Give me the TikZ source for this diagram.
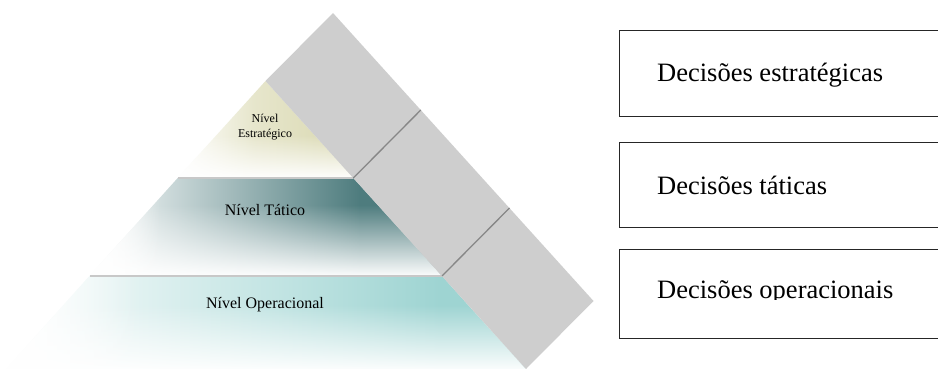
\documentclass[tikz,border=0pt]{standalone}
\usepackage{fontspec}
\setmainfont{Liberation Serif}
\usetikzlibrary{fadings}
\definecolor{stratc}{RGB}{220,219,182}
\definecolor{tactc}{RGB}{78,124,126}
\definecolor{operc}{RGB}{158,212,210}
\definecolor{bandc}{RGB}{206,206,206}
\definecolor{divc}{RGB}{135,135,135}
\definecolor{sepc}{RGB}{200,200,200}
\tikzfading[name=whitebottom, top color=transparent!100, bottom color=transparent!0]
\tikzfading[name=whiteleft, right color=transparent!100, left color=transparent!0]
\tikzset{
  decbox/.style={draw=black!85, line width=1.2pt, rectangle, minimum width=340pt, anchor=north west, inner sep=0pt},
  dectext/.style={anchor=base west, inner sep=0pt, font=\fontsize{26.5}{30}\selectfont},
  lvltext/.style={anchor=base, inner sep=0pt, font=\fontsize{16}{19}\selectfont},
  smalltext/.style={anchor=base, inner sep=0pt, font=\fontsize{12}{14}\selectfont},
  bandfill/.style={fill=bandc, draw=none},
  divline/.style={draw=divc, line width=1.3pt},
  sepline/.style={draw=sepc, line width=1.6pt}
}
\begin{document}
\begin{tikzpicture}[x=1pt,y=-1pt]
\clip (0,0) rectangle (938,369);
\fill[white] (0,0) rectangle (938,369);
% pyramid coordinates
\coordinate (apex) at (265.5,81);
\coordinate (s1l) at (177.7,178);
\coordinate (s1r) at (353.3,178);
\coordinate (s2l) at (89.5,276);
\coordinate (s2r) at (442,276);
\coordinate (bl) at (1,375);
\coordinate (br) at (531,375);
% strategic level
\begin{scope}
  \clip (apex) -- (s1r) -- (s1l) -- cycle;
  \shade[left color=white, right color=stratc, middle color=stratc!70] (177,78) rectangle (330,178);
  \fill[stratc] (329,78) rectangle (356,178);
  \fill[white, path fading=whitebottom] (177,135) rectangle (356,179);
\end{scope}
% tactical level
\begin{scope}
  \clip (s1l) -- (s1r) -- (s2r) -- (s2l) -- cycle;
  \shade[left color=white, right color=tactc] (89,178) rectangle (360,276);
  \fill[tactc] (359,178) rectangle (444,276);
  \fill[white, path fading=whitebottom] (89,205) rectangle (444,277);
  \fill[white, path fading=whiteleft] (89,178) rectangle (160,276);
\end{scope}
% operational level
\begin{scope}
  \clip (s2l) -- (s2r) -- (br) -- (bl) -- cycle;
  \shade[left color=white, right color=operc] (0,276) rectangle (440,369);
  \fill[operc] (439,276) rectangle (535,375);
  \fill[white, path fading=whitebottom] (0,305) rectangle (535,372);
  \fill[white, path fading=whiteleft] (0,276) rectangle (140,369);
\end{scope}
% level separators
\draw[sepline] (s1l) -- (s1r);
\draw[sepline] (s2l) -- (s2r);
% band
\coordinate (bA) at (265.5,81);
\coordinate (bB) at (333,13);
\coordinate (bD) at (526,369);
\coordinate (bC) at (593.5,301);
\fill[bandfill] (bA) -- (bB) -- (bC) -- (bD) -- cycle;
\coordinate (d1a) at (353.3,178);
\coordinate (d1b) at (420.8,110);
\coordinate (d2a) at (442,276);
\coordinate (d2b) at (509.5,208);
\draw[divline] (d1a) -- (d1b);
\draw[divline] (d2a) -- (d2b);
% pyramid labels
\node[smalltext] (n1) at (265,123) {Nível};
\node[smalltext] (n2) at (265,138) {Estratégico};
\node[lvltext] (tat) at (265,215) {Nível Tático};
\node[lvltext] (ope) at (265,308) {Nível Operacional};
% boxes
\node[decbox, minimum height=86pt] (box1) at (619,30) {};
\node[decbox, minimum height=85pt] (box2) at (619,142) {};
\node[decbox, minimum height=89pt] (box3) at (619,249) {};
\node[dectext] (t1) at (657,82) {Decisões estratégicas};
\node[dectext] (t2) at (657,194) {Decisões táticas};
\begin{scope}
  \clip (600,250) rectangle (938,299.5);
  \node[dectext] (t3) at (657,298.5) {Decisões operacionais};
\end{scope}
\end{tikzpicture}
\end{document}
